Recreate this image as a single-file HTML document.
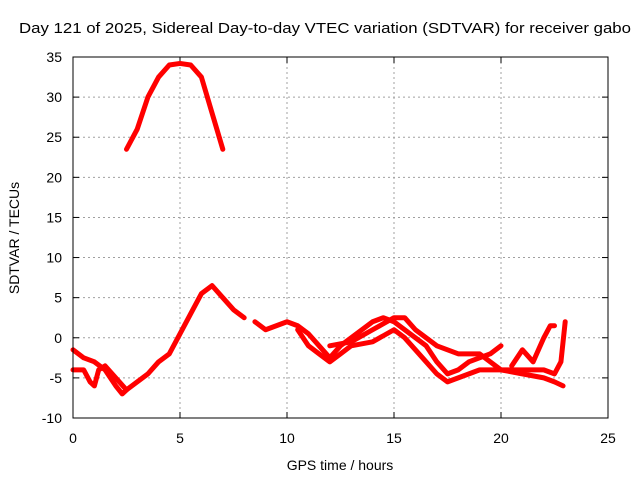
<!DOCTYPE html>
<html><head><meta charset="utf-8"><style>
body{margin:0;background:#fff;}
svg text{font-family:"Liberation Sans",sans-serif;font-size:14px;fill:#000;}
</style></head><body>
<svg width="640" height="480" xmlns="http://www.w3.org/2000/svg">
<rect width="640" height="480" fill="#fff"/>
<text x="19" y="33" textLength="612" lengthAdjust="spacingAndGlyphs" style="font-size:15px">Day 121 of 2025, Sidereal Day-to-day VTEC variation (SDTVAR) for receiver gabo</text>
<g id="grid"></g>
<g id="ticks"></g>
<g id="series"></g>
<rect x="73" y="57" width="535" height="361" fill="none" stroke="#000" stroke-width="1"/>
<text x="340" y="470" text-anchor="middle">GPS time / hours</text>
<text transform="translate(19,238) rotate(-90)" text-anchor="middle">SDTVAR / TECUs</text>
</svg>
<script>
const xTicks=[0,5,10,15,20,25];
const yTicks=[-10,-5,0,5,10,15,20,25,30,35];
const arcX=[2.5,3,3.5,4,4.5,5,5.5,6,6.5,7];
const arcY=[23.5,26,30,32.5,34,34.2,34,32.5,28,23.5];
const s1X=[0,0.5,1,1.5,2,2.3,2.5,3,3.5,4,4.5,5,5.5,6,6.5,7,7.5,8];
const s1Y=[-1.5,-2.5,-3,-4,-6,-7,-6.5,-5.5,-4.5,-3,-2,0.5,3,5.5,6.5,5,3.5,2.5];
const s2X=[0,0.5,0.8,1,1.2,1.5,2,2.5];
const s2Y=[-4,-4,-5.5,-6,-4,-3.5,-5,-6.5];
const s3X=[8.5,9,9.5,10,10.5,11,11.5,12,12.5,13,13.5,14,14.5,15,15.5,16,16.5,17,17.5,18,18.5,19,19.5,20];
const s3Y=[2,1,1.5,2,1.5,0.5,-1,-2.5,-1,0,1,2,2.5,2,1,0,-1,-3,-4.5,-4,-3,-2.5,-2,-1];
const s4X=[10.5,11,11.5,12,12.5,13,14,15,15.5,16,16.5,17,17.5,18,19,20,21,22,22.5,22.9];
const s4Y=[1,-1,-2,-3,-2,-1,-0.5,1,0,-1.5,-3,-4.5,-5.5,-5,-4,-4,-4.5,-5,-5.5,-6];
const s5X=[12,13,14,15,15.5,16,17,18,19,19.5,20,21,22,22.5,22.8,23];
const s5Y=[-1,-0.5,1,2.5,2.5,1,-1,-2,-2,-3,-4,-4,-4,-4.5,-3,2];
const s6X=[20.5,21,21.5,22,22.3,22.5];
const s6Y=[-3.5,-1.5,-3,0,1.5,1.5];
const series=[[arcX,arcY],[s1X,s1Y],[s2X,s2Y],[s3X,s3Y],[s4X,s4Y],[s5X,s5Y],[s6X,s6Y]];
const X=v=>73+v*535/25, Y=v=>418-(v+10)*361/45;
const NS="http://www.w3.org/2000/svg";
const g=document.getElementById('grid'),t=document.getElementById('ticks'),s=document.getElementById('series');
function mk(tag,a,p){const e=document.createElementNS(NS,tag);for(const k in a)e.setAttribute(k,a[k]);p.appendChild(e);return e;}
xTicks.forEach(v=>{
 if(v>0&&v<25){const l=mk('line',{x1:X(v),x2:X(v),y1:57,y2:418,stroke:'#a0a0a0','stroke-dasharray':'2,3'},g);
 
 }
 const tx=mk('text',{x:X(v),y:443,'text-anchor':'middle'},t);tx.textContent=v;
 
 
 mk('line',{x1:X(v),x2:X(v),y1:418,y2:412,stroke:'#000'},t);
 mk('line',{x1:X(v),x2:X(v),y1:57,y2:63,stroke:'#000'},t);
});
yTicks.forEach(v=>{
 if(v>-10&&v<35){const l=mk('line',{x1:73,x2:608,y1:Y(v),y2:Y(v),stroke:'#a0a0a0','stroke-dasharray':'2,3'},g);
 
 }
 const tx=mk('text',{x:62,y:Y(v)+5,'text-anchor':'end'},t);tx.textContent=v;
 
 
 mk('line',{x1:73,x2:79,y1:Y(v),y2:Y(v),stroke:'#000'},t);
 mk('line',{x1:608,x2:602,y1:Y(v),y2:Y(v),stroke:'#000'},t);
});
series.forEach((sr,i)=>{
 const pts=sr[0].map((x,j)=>X(x)+','+Y(sr[1][j])).join(' ');
 const p=mk('polyline',{points:pts,fill:'none',stroke:'#ff0000','stroke-width':5,'stroke-linejoin':'round','stroke-linecap':'round'},s);
 
 
});
</script>
</body></html>
